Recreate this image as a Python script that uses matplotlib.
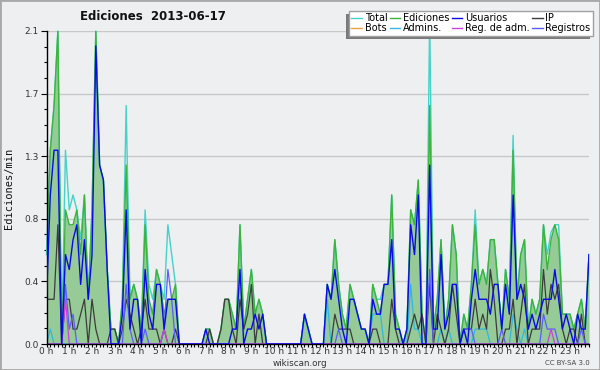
import matplotlib
matplotlib.use('Agg')
import matplotlib.pyplot as plt
import numpy as np
from matplotlib.patches import Rectangle
from matplotlib.lines import Line2D

# ---------------- data (10-minute steps, 144 points) ----------------
hour_labels = [f"{h} h" for h in range(24)]

ediciones = [
    0.6, 1.3, 1.6, 2.1, 0.0, 0.9,
    0.8, 0.8, 0.9, 0.6, 1.0, 0.3,
    0.9, 2.1, 1.2, 1.1, 0.5, 0.1,
    0.1, 0.0, 0.3, 1.2, 0.3, 0.4,
    0.3, 0.1, 0.8, 0.3, 0.2, 0.5,
    0.4, 0.2, 0.3, 0.3, 0.4, 0.0,
    0.0, 0.0, 0.0, 0.0, 0.0, 0.0,
    0.1, 0.1, 0.0, 0.0, 0.1, 0.3,
    0.3, 0.2, 0.1, 0.8, 0.1, 0.3,
    0.5, 0.2, 0.3, 0.2, 0.0, 0.0,
    0.0, 0.0, 0.0, 0.0, 0.0, 0.0,
    0.0, 0.0, 0.2, 0.1, 0.0, 0.0,
    0.0, 0.0, 0.4, 0.3, 0.7, 0.4,
    0.2, 0.1, 0.4, 0.3, 0.2, 0.1,
    0.1, 0.0, 0.4, 0.3, 0.2, 0.4,
    0.4, 1.0, 0.2, 0.1, 0.0, 0.1,
    0.9, 0.8, 1.1, 0.2, 0.0, 1.6,
    0.1, 0.3, 0.7, 0.1, 0.3, 0.8,
    0.6, 0.0, 0.2, 0.1, 0.4, 0.8,
    0.4, 0.5, 0.4, 0.7, 0.7, 0.4,
    0.1, 0.5, 0.3, 1.3, 0.3, 0.6,
    0.7, 0.1, 0.3, 0.2, 0.3, 0.8,
    0.5, 0.7, 0.8, 0.7, 0.2, 0.2,
    0.2, 0.1, 0.2, 0.3, 0.1, 0.6,
]

total = [
    0.6, 1.3, 1.6, 2.1, 0.0, 1.3,
    0.9, 1.0, 0.9, 0.7, 1.0, 0.3,
    0.9, 2.1, 1.2, 1.1, 0.5, 0.1,
    0.1, 0.0, 0.3, 1.6, 0.3, 0.4,
    0.3, 0.1, 0.9, 0.4, 0.3, 0.5,
    0.4, 0.3, 0.8, 0.6, 0.4, 0.0,
    0.0, 0.0, 0.0, 0.0, 0.0, 0.0,
    0.1, 0.1, 0.0, 0.0, 0.1, 0.3,
    0.3, 0.2, 0.1, 0.8, 0.1, 0.3,
    0.5, 0.2, 0.3, 0.2, 0.0, 0.0,
    0.0, 0.0, 0.0, 0.0, 0.0, 0.0,
    0.0, 0.0, 0.2, 0.1, 0.0, 0.0,
    0.0, 0.0, 0.4, 0.3, 0.7, 0.4,
    0.2, 0.1, 0.4, 0.3, 0.2, 0.1,
    0.1, 0.0, 0.4, 0.3, 0.3, 0.4,
    0.4, 1.0, 0.2, 0.1, 0.0, 0.1,
    0.9, 0.8, 1.1, 0.2, 0.0, 2.2,
    0.1, 0.3, 0.7, 0.1, 0.3, 0.8,
    0.6, 0.0, 0.2, 0.1, 0.4, 0.9,
    0.4, 0.5, 0.4, 0.7, 0.7, 0.4,
    0.1, 0.5, 0.3, 1.4, 0.3, 0.6,
    0.7, 0.1, 0.3, 0.2, 0.3, 0.8,
    0.6, 0.75, 0.8, 0.8, 0.2, 0.2,
    0.2, 0.1, 0.2, 0.3, 0.1, 0.6,
]

usuarios = [
    0.3, 1.0, 1.3, 1.3, 0.0, 0.6,
    0.5, 0.7, 0.8, 0.4, 0.7, 0.3,
    0.6, 2.0, 1.2, 1.1, 0.5, 0.0,
    0.0, 0.0, 0.2, 0.9, 0.1, 0.3,
    0.3, 0.0, 0.5, 0.2, 0.1, 0.4,
    0.4, 0.1, 0.3, 0.3, 0.3, 0.0,
    0.0, 0.0, 0.0, 0.0, 0.0, 0.0,
    0.1, 0.0, 0.0, 0.0, 0.0, 0.0,
    0.0, 0.1, 0.1, 0.5, 0.0, 0.1,
    0.1, 0.2, 0.1, 0.2, 0.0, 0.0,
    0.0, 0.0, 0.0, 0.0, 0.0, 0.0,
    0.0, 0.0, 0.2, 0.1, 0.0, 0.0,
    0.0, 0.0, 0.4, 0.3, 0.5, 0.3,
    0.1, 0.0, 0.3, 0.3, 0.2, 0.1,
    0.1, 0.0, 0.3, 0.2, 0.2, 0.4,
    0.4, 0.7, 0.1, 0.1, 0.0, 0.1,
    0.8, 0.6, 1.0, 0.0, 0.0, 1.2,
    0.1, 0.1, 0.6, 0.1, 0.2, 0.4,
    0.4, 0.0, 0.1, 0.0, 0.3, 0.5,
    0.3, 0.3, 0.3, 0.2, 0.4, 0.4,
    0.1, 0.4, 0.2, 1.0, 0.3, 0.4,
    0.3, 0.1, 0.2, 0.1, 0.2, 0.3,
    0.3, 0.3, 0.5, 0.3, 0.1, 0.2,
    0.1, 0.0, 0.2, 0.1, 0.1, 0.6,
]

ip = [
    0.3, 0.3, 0.3, 0.8, 0.0, 0.3,
    0.3, 0.1, 0.1, 0.2, 0.3, 0.0,
    0.3, 0.1, 0.0, 0.0, 0.0, 0.1,
    0.1, 0.0, 0.1, 0.3, 0.2, 0.1,
    0.0, 0.1, 0.3, 0.1, 0.1, 0.1,
    0.0, 0.1, 0.0, 0.0, 0.1, 0.0,
    0.0, 0.0, 0.0, 0.0, 0.0, 0.0,
    0.0, 0.1, 0.0, 0.0, 0.1, 0.3,
    0.3, 0.1, 0.0, 0.3, 0.1, 0.2,
    0.4, 0.0, 0.2, 0.0, 0.0, 0.0,
    0.0, 0.0, 0.0, 0.0, 0.0, 0.0,
    0.0, 0.0, 0.0, 0.0, 0.0, 0.0,
    0.0, 0.0, 0.0, 0.0, 0.2, 0.1,
    0.1, 0.1, 0.1, 0.0, 0.0, 0.0,
    0.0, 0.0, 0.1, 0.1, 0.0, 0.0,
    0.0, 0.3, 0.1, 0.0, 0.0, 0.0,
    0.1, 0.2, 0.1, 0.2, 0.0, 0.4,
    0.0, 0.2, 0.1, 0.0, 0.1, 0.4,
    0.2, 0.0, 0.1, 0.1, 0.1, 0.3,
    0.1, 0.2, 0.1, 0.5, 0.3, 0.0,
    0.0, 0.1, 0.1, 0.3, 0.0, 0.2,
    0.4, 0.0, 0.1, 0.1, 0.1, 0.5,
    0.2, 0.4, 0.3, 0.4, 0.1, 0.0,
    0.1, 0.1, 0.0, 0.2, 0.0, 0.0,
]

admins = [0.0] * 144
for i, v in [(1, 0.1), (68, 0.2), (69, 0.1), (74, 0.3), (86, 0.2), (87, 0.2),
             (88, 0.2), (96, 0.4), (97, 0.1), (98, 0.1), (104, 0.1), (106, 0.1),
             (113, 0.1), (114, 0.1), (115, 0.1), (116, 0.1), (123, 0.2),
             (124, 0.1), (126, 0.1)]:
    admins[i] = v

registros = [0.0] * 144
for i, v in [(5, 0.4), (6, 0.1), (7, 0.2), (21, 0.4), (22, 0.1), (26, 0.1),
             (31, 0.1), (32, 0.5), (33, 0.3), (77, 0.1), (101, 0.5), (110, 0.1),
             (111, 0.1), (112, 0.1), (120, 0.1), (131, 0.2), (132, 0.1),
             (133, 0.1), (134, 0.1), (141, 0.1)]:
    registros[i] = v

reg_adm = [0.0] * 144
for i, v in [(5, 0.3), (31, 0.1), (133, 0.1)]:
    reg_adm[i] = v

bots = [0.0] * 144

# ---------------- figure ----------------
BG = '#eeeff1'
W, H = 600, 370
fig = plt.figure(figsize=(W / 100, H / 100), dpi=100, facecolor=BG)
ax = fig.add_axes([46.5 / W, 26 / H, (589 - 46.5) / W, 313 / H])
ax.set_facecolor(BG)

x = np.arange(len(ediciones))

c_total = '#45d2c8'
c_edic = '#3cb43c'
c_fill = '#96ca96'
c_usu = '#0a0ae6'
c_ip = '#3c3c3c'
c_bots = '#f0a040'
c_adm = '#30b8e0'
c_regadm = '#d040e0'
c_reg = '#5c5cff'

ax.fill_between(x, 0, ediciones, color=c_fill, lw=0, zorder=1)
ax.plot(x, bots, color=c_bots, lw=0.9, zorder=2)
ax.plot(x, total, color=c_total, lw=1.0, zorder=2, clip_on=False)
ax.plot(x, ediciones, color=c_edic, lw=1.0, zorder=2.1)
ax.plot(x, admins, color=c_adm, lw=0.9, zorder=2.2)
ax.plot(x, ip, color=c_ip, lw=0.9, zorder=2.3)
ax.plot(x, registros, color=c_reg, lw=0.9, zorder=2.4)
ax.plot(x, reg_adm, color=c_regadm, lw=0.9, zorder=2.5)
ax.plot(x, usuarios, color=c_usu, lw=1.0, zorder=2.6)

ax.set_xlim(0, 143)
ax.set_ylim(0, 2.1)

yt = np.arange(6) * 0.42
ax.set_yticks(yt)
ax.set_yticklabels([f"{v:.1f}" for v in yt])
ax.set_yticks(np.arange(21) * 0.105, minor=True)
ax.set_xticks(np.arange(24) * 6)
ax.set_xticklabels(hour_labels)
ax.set_xticks(np.arange(144), minor=True)

ax.tick_params(axis='both', which='both', direction='out', colors='black',
               labelsize=6.5, labelcolor='#333333', width=0.8)
ax.tick_params(axis='y', which='major', length=4.5, pad=1)
ax.tick_params(axis='y', which='minor', length=2.2)
ax.tick_params(axis='x', which='major', length=2.5, pad=0)
ax.tick_params(axis='x', which='minor', length=2.2)

for s in ['top', 'right']:
    ax.spines[s].set_visible(False)
for s in ['left', 'bottom']:
    ax.spines[s].set_color('black')
    ax.spines[s].set_linewidth(1.0)

ax.yaxis.grid(True, which='major', color='#c8c8c8', lw=1.0)
ax.set_axisbelow(True)

# texts
fig.text(153 / W, 1 - 17 / H, 'Ediciones  2013-06-17', fontsize=8.5,
         fontweight='bold', ha='center', va='center', color='#111111')
fig.text(9 / W, 1 - 188 / H, 'Ediciones/min', rotation=90, fontsize=7.5,
         family='DejaVu Sans Mono', ha='center', va='center', color='#111111')
fig.text(300 / W, 1 - 363 / H, 'wikiscan.org', fontsize=6.3,
         ha='center', va='center', color='#333333')
fig.text(590 / W, 1 - 363 / H, 'CC BY-SA 3.0', fontsize=5,
         ha='right', va='center', color='#444444')

# legend
names = ['Total', 'Bots', 'Ediciones', 'Admins.', 'Usuarios', 'Reg. de adm.',
         'IP', 'Registros']
cols = [c_total, c_bots, c_edic, c_adm, c_usu, c_regadm, c_ip, c_reg]
handles = [Line2D([], [], color=c, lw=1.0) for c in cols]
leg = fig.legend(handles, names, ncol=4, loc='upper right',
                 bbox_to_anchor=(593 / W, 1 - 11 / H),
                 bbox_transform=fig.transFigure,
                 fontsize=7, handlelength=1.1, handletextpad=0.3,
                 columnspacing=0.2, borderpad=0.25, labelspacing=0.0,
                 frameon=True, fancybox=False, framealpha=1.0,
                 edgecolor='#a0a0a0', facecolor='white', borderaxespad=0)
leg.get_frame().set_linewidth(1.0)
leg.set_zorder(6)

fig.canvas.draw()
bb = leg.get_window_extent()
shadow = Rectangle((bb.x0 - 3, bb.y0 - 3), bb.width, bb.height,
                   transform=None, facecolor='#7a7a7a', edgecolor='none',
                   zorder=5)
fig.add_artist(shadow)

# outer border
fig.add_artist(Rectangle((0, 0), 1, 1, transform=fig.transFigure, fill=False,
                         edgecolor='#a8a8a8', lw=2, zorder=10))

fig.savefig('out.png', dpi=100, facecolor=BG)
